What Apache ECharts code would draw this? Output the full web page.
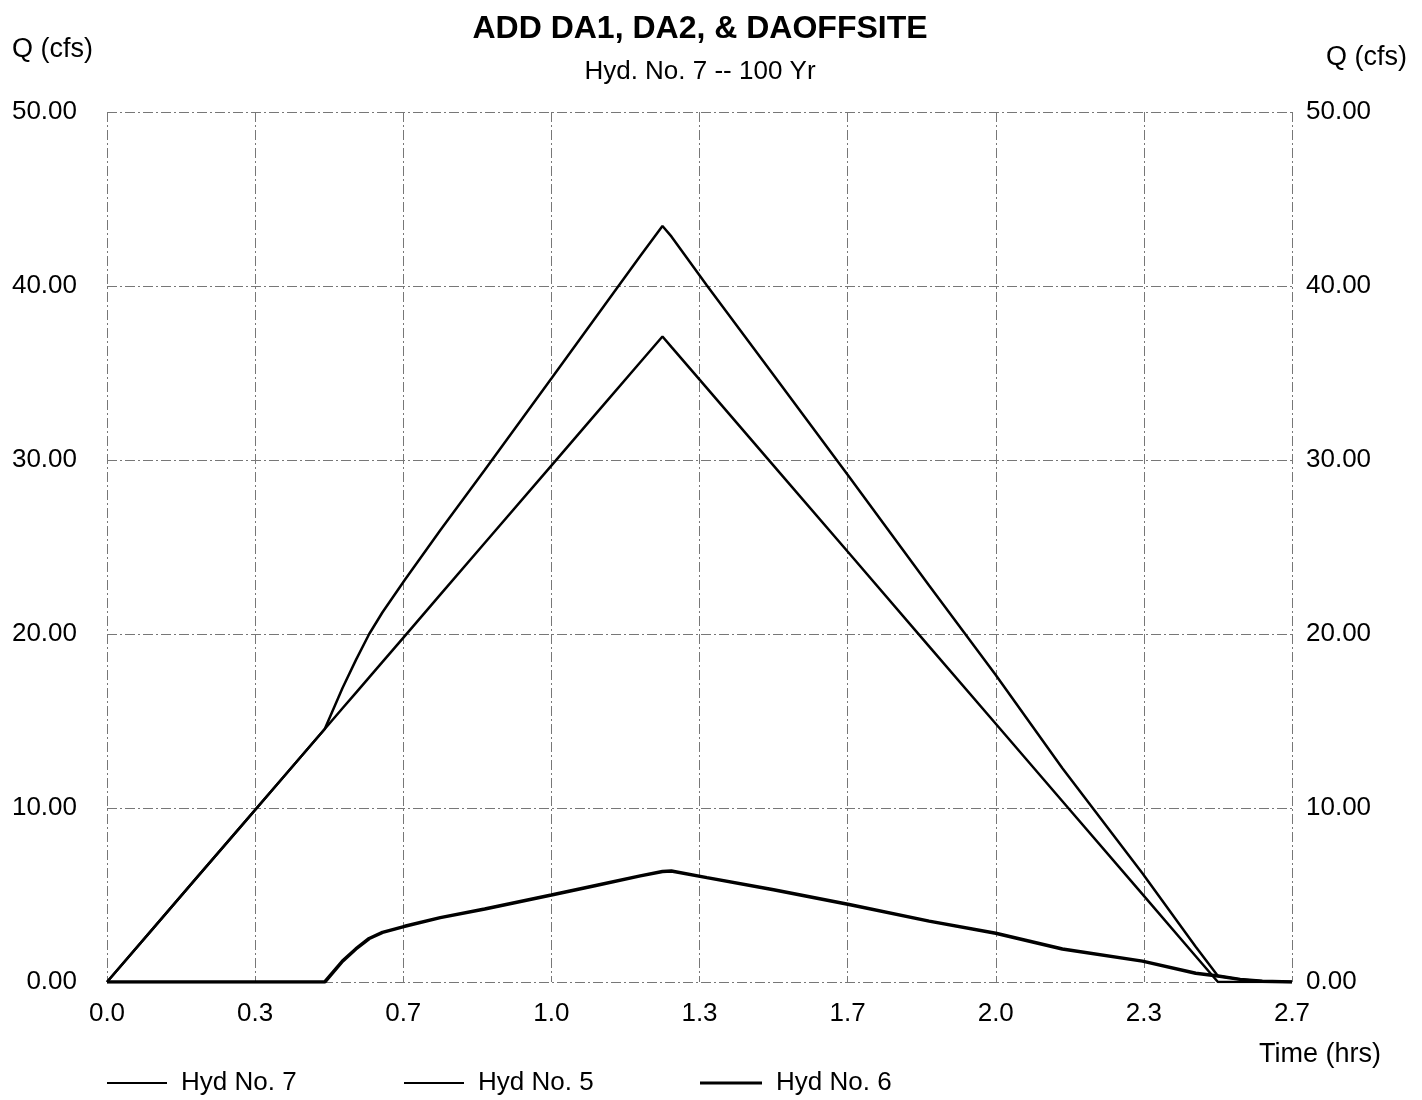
<!DOCTYPE html>
<html>
<head>
<meta charset="utf-8">
<script src="https://cdn.jsdelivr.net/npm/echarts@6/dist/echarts.min.js"></script>
<style>
html,body{margin:0;padding:0;background:#fff;}
#chart{width:1422px;height:1100px;}
</style>
</head>
<body>
<div id="chart"></div>
<script>
// Time in minutes (axis labels shown in hours)
const timeMin = [0, 6, 12, 18, 24, 29.4, 31.8, 33.6, 35.4, 37.2, 40.2, 45, 51, 60, 66, 72, 75, 76.2, 81, 90, 100.2, 111, 120, 129, 139.8, 147, 150, 153, 156, 160];
const hyd7 = [0, 2.97, 5.94, 8.9, 11.87, 14.54, 16.9, 18.5, 20.0, 21.25, 23.1, 25.96, 29.43, 34.68, 38.2, 41.72, 43.45, 42.85, 40.03, 34.88, 29.04, 22.79, 17.64, 12.29, 6.25, 2.03, 0.35, 0.15, 0.05, 0];
const hyd5 = [0, 2.97, 5.94, 8.9, 11.87, 14.54, 15.73, 16.62, 17.51, 18.4, 19.88, 22.26, 25.23, 29.68, 32.65, 35.62, 37.1, 36.5, 34.13, 29.68, 24.64, 19.29, 14.84, 10.39, 5.05, 1.48, 0, 0, 0, 0];
const hyd6 = [0, 0, 0, 0, 0, 0, 1.2, 1.9, 2.5, 2.85, 3.2, 3.7, 4.2, 5.0, 5.55, 6.1, 6.35, 6.38, 6.0, 5.3, 4.45, 3.5, 2.8, 1.9, 1.2, 0.5, 0.35, 0.15, 0.05, 0];
const seriesNames = ['Hyd No. 7', 'Hyd No. 5', 'Hyd No. 6'];
const yTicks = [0, 10, 20, 30, 40, 50];

const FONT = 'Liberation Sans, Arial, sans-serif';
function pairs(vals){ return timeMin.map((t,i)=>[t, vals[i]]); }

const chart = echarts.init(document.getElementById('chart'), null, {renderer:'canvas'});
const gridLine = {show:true, lineStyle:{color:'#777', width:1, type:[10,3,2,3]}};
const legendText = {fontFamily:FONT, fontSize:26, color:'#000', padding:[0,0,0,9]};
const option = {
  animation:false,
  backgroundColor:'#fff',
  title:[
    {text:'ADD DA1, DA2, & DAOFFSITE', left:700, top:13, textAlign:'center', padding:0,
     textStyle:{fontFamily:FONT, fontSize:32, fontWeight:'bold', color:'#000'}},
    {text:'Hyd. No. 7 -- 100 Yr', left:700, top:59, textAlign:'center', padding:0,
     textStyle:{fontFamily:FONT, fontSize:26, fontWeight:'normal', color:'#000'}}
  ],
  grid:{left:107, right:130, top:112, bottom:118, containLabel:false},
  xAxis:{
    type:'value', min:0, max:160, interval:20,
    axisLine:{show:false}, axisTick:{show:false},
    splitLine:gridLine,
    axisLabel:{formatter:v=>(v/60).toFixed(1), fontFamily:FONT, fontSize:26, color:'#000', margin:19}
  },
  yAxis:[
    {type:'value', min:yTicks[0], max:yTicks[yTicks.length-1], interval:10, position:'left',
     axisLine:{show:false}, axisTick:{show:false}, splitLine:gridLine,
     axisLabel:{formatter:v=>v.toFixed(2), fontFamily:FONT, fontSize:26, color:'#000', margin:30}},
    {type:'value', min:yTicks[0], max:yTicks[yTicks.length-1], interval:10, position:'right',
     axisLine:{show:false}, axisTick:{show:false}, splitLine:{show:false},
     axisLabel:{formatter:v=>v.toFixed(2), fontFamily:FONT, fontSize:26, color:'#000', margin:14}}
  ],
  legend:[
    {data:[seriesNames[0]], left:107, top:1070, padding:0, icon:'rect', itemWidth:60, itemHeight:2, itemGap:0, textStyle:legendText},
    {data:[seriesNames[1]], left:404, top:1070, padding:0, icon:'rect', itemWidth:60, itemHeight:2, itemGap:0, textStyle:legendText},
    {data:[seriesNames[2]], left:700, top:1070, padding:0, icon:'rect', itemWidth:62, itemHeight:3, itemGap:0, textStyle:legendText}
  ],
  graphic:[
    {type:'text', x:12, y:50, style:{text:'Q (cfs)', font:'27px '+FONT, fill:'#000', verticalAlign:'middle'}},
    {type:'text', x:1326, y:58, style:{text:'Q (cfs)', font:'27px '+FONT, fill:'#000', verticalAlign:'middle'}},
    {type:'text', x:1259, y:1055, style:{text:'Time (hrs)', font:'27px '+FONT, fill:'#000', verticalAlign:'middle'}}
  ],
  series:[
    {name:seriesNames[0], type:'line', data:pairs(hyd7), showSymbol:false, symbol:'none',
     lineStyle:{color:'#000', width:2.5}, itemStyle:{color:'#000'}, z:3},
    {name:seriesNames[1], type:'line', data:pairs(hyd5), showSymbol:false, symbol:'none',
     lineStyle:{color:'#000', width:2.5}, itemStyle:{color:'#000'}, z:3},
    {name:seriesNames[2], type:'line', data:pairs(hyd6), showSymbol:false, symbol:'none',
     lineStyle:{color:'#000', width:3.5}, itemStyle:{color:'#000'}, z:4}
  ]
};
chart.setOption(option);
</script>
</body>
</html>
